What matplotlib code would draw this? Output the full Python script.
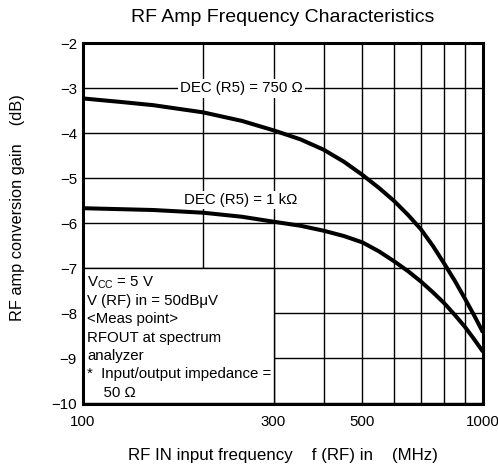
import matplotlib
matplotlib.use("Agg")
import matplotlib.pyplot as plt
from matplotlib.patches import Rectangle
from matplotlib.ticker import FixedLocator, NullFormatter

plt.rcParams['font.family'] = ['Liberation Sans', 'DejaVu Sans']
plt.rcParams['mathtext.fontset'] = 'custom'
plt.rcParams['mathtext.rm'] = 'Liberation Sans'
plt.rcParams['axes.unicode_minus'] = True

# ---- data ----
freq_750 = [100, 125, 150, 200, 250, 300, 350, 400, 450, 500, 550, 600, 650, 700, 750, 800, 850, 900, 950, 1000]
gain_750 = [-3.22, -3.30, -3.37, -3.53, -3.72, -3.93, -4.13, -4.36, -4.63, -4.92, -5.21, -5.50, -5.81, -6.13,
            -6.50, -6.89, -7.27, -7.66, -8.04, -8.42]
freq_1k = [100, 150, 200, 250, 300, 350, 400, 450, 500, 550, 600, 650, 700, 750, 800, 850, 900, 950, 1000]
gain_1k = [-5.66, -5.70, -5.76, -5.85, -5.96, -6.05, -6.16, -6.28, -6.42, -6.62, -6.84, -7.06, -7.29, -7.53,
           -7.77, -8.03, -8.29, -8.57, -8.85]

x_major = [100, 300, 500, 1000]
x_major_labels = ['100', '300', '500', '1000']
x_minor = [200, 400, 600, 700, 800, 900]
y_ticks = [-10, -9, -8, -7, -6, -5, -4, -3, -2]

label_750 = 'DEC (R5) = 750 \u03a9'
label_1k = 'DEC (R5) = 1 k\u03a9'
note_lines = [r'V$_{\rm CC}$ = 5 V', 'V (RF) in = 50dB\u03bcV', '<Meas point>', 'RFOUT at spectrum',
              'analyzer', '*  Input/output impedance =', '    50 \u03a9']

title = 'RF Amp Frequency Characteristics'
xlabel = 'RF IN input frequency    f (RF) in    (MHz)'
ylabel = 'RF amp conversion gain    (dB)'

W, H = 498, 469
fig = plt.figure(figsize=(W / 100, H / 100), dpi=100)
L, R, T, B = 82.5, 483, 43.5, 403.5
ax = fig.add_axes([L / W, 1 - B / H, (R - L) / W, (B - T) / H])

ax.set_xscale('log')
ax.set_xlim(100, 1000)
ax.set_ylim(-10, -2)
ax.xaxis.set_major_locator(FixedLocator(x_major))
ax.set_xticklabels(x_major_labels)
ax.xaxis.set_minor_locator(FixedLocator(x_minor))
ax.xaxis.set_minor_formatter(NullFormatter())
ax.set_yticks(y_ticks)
ax.set_yticklabels(['\u2212%d' % abs(v) for v in y_ticks])
ax.tick_params(which='both', length=0, labelsize=10.8)
ax.tick_params(axis='x', pad=8)
ax.tick_params(axis='y', pad=4)

ax.set_axisbelow(True)
ax.grid(True, which='both', color='black', linewidth=1.0)
for s in ax.spines.values():
    s.set_linewidth(2.2)
    s.set_zorder(5)

ax.add_patch(Rectangle((100, -10), 200, 3, facecolor='white', edgecolor='black', linewidth=1.0, zorder=1.5))

ax.plot(freq_750, gain_750, color='black', linewidth=2.9, zorder=3, solid_capstyle='butt', solid_joinstyle='round')
ax.plot(freq_1k, gain_1k, color='black', linewidth=2.9, zorder=3, solid_capstyle='butt', solid_joinstyle='round')

bb = dict(facecolor='white', edgecolor='none', pad=1.5)
ax.text(250, -3.0, label_750, fontsize=10.8, ha='center', va='center', bbox=bb, zorder=4)
ax.text(249, -5.47, label_1k, fontsize=10.8, ha='center', va='center', bbox=bb, zorder=4)

baselines = [286.7, 305, 323.3, 341.7, 360, 378.3, 396.7]
for txt, yb in zip(note_lines, baselines):
    ax.text((87.3 - L) / (R - L), (B - yb) / (B - T), txt, fontsize=10.8, ha='left', va='baseline',
            transform=ax.transAxes, zorder=4)

fig.text(283 / W, 1 - 18 / H, title, fontsize=14, ha='center', va='center')
fig.text(283 / W, 1 - 455 / H, xlabel, fontsize=12.2, ha='center', va='center')
fig.text(18 / W, 1 - 208 / H, ylabel, fontsize=11.8, ha='center', va='center', rotation=90)

fig.savefig('out.png', dpi=100)
